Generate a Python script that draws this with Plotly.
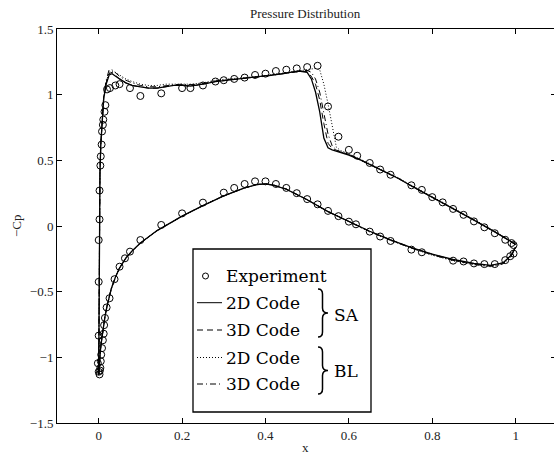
import plotly.graph_objects as go

# ---------------- experiment (-Cp along chord) ----------------
exp_up_x = [0.0, -0.002, 0.0, 0.0, 0.0, 0.002, 0.002, 0.004, 0.005, 0.007, 0.008, 0.010,
            0.011, 0.014, 0.016, 0.020, 0.027, 0.040, 0.050, 0.075, 0.100, 0.150, 0.200,
            0.220, 0.250, 0.280, 0.300, 0.325, 0.350, 0.375, 0.400, 0.425, 0.450, 0.475,
            0.500, 0.525, 0.550, 0.575, 0.600, 0.620, 0.650, 0.675, 0.700, 0.750, 0.775,
            0.800, 0.825, 0.850, 0.875, 0.900, 0.925, 0.950, 0.975, 0.990, 0.995]
exp_up_cp = [-1.11, -1.045, -0.835, -0.425, -0.107, 0.05, 0.27, 0.46, 0.53, 0.62, 0.72, 0.77,
             0.81, 0.87, 0.92, 1.04, 1.05, 1.07, 1.08, 1.05, 0.99, 1.01, 1.05,
             1.05, 1.07, 1.10, 1.11, 1.12, 1.13, 1.15, 1.16, 1.18, 1.19, 1.20,
             1.21, 1.22, 0.91, 0.68, 0.58, 0.535, 0.48, 0.43, 0.39, 0.31, 0.275,
             0.22, 0.18, 0.13, 0.085, 0.035, -0.01, -0.055, -0.105, -0.13, -0.145]

exp_lo_x = [0.002, 0.003, 0.004, 0.005, 0.006, 0.008, 0.010, 0.012, 0.013, 0.015, 0.019,
            0.026, 0.038, 0.050, 0.063, 0.075, 0.100, 0.150, 0.200, 0.250, 0.300, 0.325,
            0.350, 0.375, 0.400, 0.425, 0.450, 0.475, 0.500, 0.525, 0.550, 0.575, 0.600,
            0.617, 0.650, 0.675, 0.700, 0.750, 0.775, 0.850, 0.875, 0.900, 0.925, 0.950,
            0.975, 0.987, 0.995]
exp_lo_cp = [-1.13, -1.10, -1.08, -1.03, -0.98, -0.93, -0.87, -0.82, -0.755, -0.70, -0.62,
             -0.55, -0.405, -0.31, -0.246, -0.195, -0.107, 0.008, 0.096, 0.178, 0.254, 0.29,
             0.32, 0.34, 0.34, 0.32, 0.29, 0.25, 0.205, 0.165, 0.115, 0.075, 0.033,
             0.013, -0.043, -0.08, -0.114, -0.18, -0.20, -0.264, -0.27, -0.285, -0.29, -0.29,
             -0.26, -0.23, -0.21]

# ---------------- computed solutions, upper surface ----------------
cfd_up_x = [0.0, 0.0005, 0.001, 0.002, 0.003, 0.005, 0.008, 0.012, 0.018, 0.025, 0.032,
            0.04, 0.05, 0.065, 0.08, 0.10, 0.12, 0.14, 0.16, 0.18, 0.20, 0.22, 0.25, 0.28,
            0.31, 0.34, 0.37, 0.40, 0.43, 0.46, 0.48, 0.50, 0.51, 0.52, 0.53, 0.54, 0.55,
            0.56, 0.57, 0.58, 0.60, 0.63, 0.66, 0.69, 0.72, 0.75, 0.80, 0.85, 0.90, 0.95,
            0.98, 1.0]
sa2d_up = [-1.13, -0.60, -0.20, 0.15, 0.40, 0.62, 0.82, 0.97, 1.08, 1.15, 1.16,
           1.14, 1.12, 1.09, 1.07, 1.06, 1.05, 1.05, 1.06, 1.07, 1.07, 1.065, 1.08, 1.10,
           1.11, 1.12, 1.13, 1.14, 1.155, 1.17, 1.18, 1.17, 1.12, 1.02, 0.87, 0.67, 0.595,
           0.58, 0.57, 0.56, 0.54, 0.50, 0.455, 0.41, 0.36, 0.305, 0.22, 0.135, 0.045, -0.045,
           -0.10, -0.14]
sa3d_up = [-1.13, -0.60, -0.20, 0.15, 0.40, 0.62, 0.82, 0.97, 1.09, 1.16, 1.17,
           1.15, 1.12, 1.09, 1.07, 1.06, 1.05, 1.05, 1.06, 1.07, 1.07, 1.065, 1.08, 1.10,
           1.11, 1.12, 1.13, 1.14, 1.155, 1.17, 1.18, 1.175, 1.14, 1.08, 0.96, 0.78, 0.63,
           0.59, 0.575, 0.565, 0.545, 0.50, 0.455, 0.41, 0.36, 0.305, 0.22, 0.135, 0.045, -0.045,
           -0.10, -0.14]
bl2d_up = [-1.13, -0.60, -0.20, 0.15, 0.40, 0.62, 0.82, 0.98, 1.10, 1.17, 1.18,
           1.17, 1.15, 1.12, 1.10, 1.08, 1.07, 1.07, 1.08, 1.08, 1.085, 1.08, 1.09, 1.11,
           1.12, 1.125, 1.135, 1.145, 1.16, 1.175, 1.185, 1.19, 1.195, 1.20, 1.19, 1.08, 0.93,
           0.75, 0.60, 0.575, 0.55, 0.505, 0.46, 0.415, 0.365, 0.31, 0.225, 0.14, 0.05, -0.04,
           -0.10, -0.14]
bl3d_up = [-1.13, -0.60, -0.20, 0.15, 0.40, 0.62, 0.83, 0.99, 1.11, 1.19, 1.19,
           1.17, 1.14, 1.11, 1.09, 1.07, 1.06, 1.06, 1.07, 1.075, 1.08, 1.075, 1.085, 1.105,
           1.115, 1.12, 1.13, 1.14, 1.155, 1.17, 1.18, 1.185, 1.17, 1.12, 1.02, 0.86, 0.70,
           0.61, 0.58, 0.565, 0.545, 0.50, 0.455, 0.41, 0.36, 0.305, 0.22, 0.135, 0.045, -0.045,
           -0.10, -0.145]

# ---------------- computed solutions, lower surface ----------------
cfd_lo_x = [0.0, 0.001, 0.002, 0.004, 0.007, 0.01, 0.015, 0.02, 0.03, 0.04, 0.05, 0.065,
            0.08, 0.10, 0.12, 0.14, 0.17, 0.20, 0.25, 0.30, 0.35, 0.38, 0.40, 0.42, 0.45,
            0.50, 0.55, 0.60, 0.65, 0.70, 0.75, 0.80, 0.85, 0.90, 0.94, 0.97, 0.99, 1.0]
sa2d_lo = [-1.13, -1.07, -1.02, -0.95, -0.87, -0.79, -0.69, -0.61, -0.48, -0.39, -0.32, -0.245,
           -0.19, -0.13, -0.08, -0.035, 0.02, 0.075, 0.155, 0.23, 0.29, 0.315, 0.32, 0.31, 0.28,
           0.20, 0.11, 0.035, -0.04, -0.105, -0.165, -0.215, -0.255, -0.285, -0.30, -0.28, -0.22,
           -0.16]
sa3d_lo = [-1.13, -1.07, -1.02, -0.95, -0.87, -0.79, -0.69, -0.61, -0.48, -0.39, -0.32, -0.245,
           -0.19, -0.13, -0.08, -0.035, 0.02, 0.075, 0.155, 0.23, 0.29, 0.317, 0.322, 0.312, 0.282,
           0.20, 0.11, 0.035, -0.04, -0.105, -0.165, -0.215, -0.257, -0.288, -0.302, -0.28, -0.22,
           -0.16]
bl2d_lo = [-1.13, -1.07, -1.02, -0.95, -0.87, -0.79, -0.69, -0.61, -0.48, -0.39, -0.32, -0.245,
           -0.19, -0.13, -0.08, -0.035, 0.02, 0.075, 0.155, 0.23, 0.29, 0.315, 0.32, 0.31, 0.28,
           0.20, 0.11, 0.03, -0.045, -0.11, -0.17, -0.222, -0.265, -0.295, -0.31, -0.29, -0.23,
           -0.16]
bl3d_lo = [-1.13, -1.07, -1.02, -0.95, -0.87, -0.79, -0.69, -0.61, -0.48, -0.39, -0.32, -0.245,
           -0.19, -0.13, -0.08, -0.035, 0.02, 0.075, 0.155, 0.23, 0.29, 0.316, 0.321, 0.311, 0.281,
           0.20, 0.11, 0.032, -0.043, -0.108, -0.168, -0.22, -0.262, -0.292, -0.307, -0.287, -0.227,
           -0.16]

x_ticks = [0, 0.2, 0.4, 0.6, 0.8, 1]
y_ticks = [-1.5, -1, -0.5, 0, 0.5, 1, 1.5]

W, H = 554, 456
ML, MR, MT, MB = 57, 0, 29, 33
PW, PH = W - ML - MR, H - MT - MB
SERIF = "Liberation Serif"
CM = "DejaVu Serif"


def px(xp):
    return (xp - ML) / PW


def py(yp):
    return (H - MB - yp) / PH


fig = go.Figure()

curve_styles = [
    (sa2d_up, sa2d_lo, "solid", 1.3),
    (sa3d_up, sa3d_lo, "6px,4px", 1.0),
    (bl2d_up, bl2d_lo, "1px,2px", 1.0),
    (bl3d_up, bl3d_lo, "6px,3px,1px,3px", 1.0),
]
for up, lo, dash, lw in curve_styles:
    for xs, ys in ((cfd_up_x, up), (cfd_lo_x, lo)):
        fig.add_trace(go.Scatter(x=xs, y=ys, mode="lines", showlegend=False,
                                 line=dict(color="black", width=lw, dash=dash)))

for xs, ys in ((exp_up_x, exp_up_cp), (exp_lo_x, exp_lo_cp)):
    fig.add_trace(go.Scatter(x=xs, y=ys, mode="markers", showlegend=False,
                             marker=dict(symbol="circle-open", size=7, color="black",
                                         line=dict(width=1, color="black"))))

# carrier trace for the right-hand tick axis
fig.add_trace(go.Scatter(x=[None], y=[None], yaxis="y2", showlegend=False, hoverinfo="skip"))

axis_common = dict(showgrid=False, zeroline=False, ticks="inside", ticklen=5,
                   tickcolor="black", tickwidth=1, linecolor="black", linewidth=1,
                   showline=True, tickfont=dict(family=SERIF, size=13, color="#222"))

fig.update_layout(
    width=W, height=H,
    margin=dict(l=ML, r=MR, t=MT, b=MB),
    paper_bgcolor="white", plot_bgcolor="white",
    xaxis=dict(range=[-0.1, 1.092], tickvals=x_ticks, mirror="ticks", **axis_common),
    yaxis=dict(range=[-1.5, 1.5], tickvals=y_ticks, **axis_common),
    yaxis2=dict(range=[-1.5, 1.5], tickvals=y_ticks, overlaying="y", side="right",
                showgrid=False, zeroline=False, showline=False, showticklabels=False,
                ticks="inside", ticklen=3, tickcolor="black"),
)

annotations = [
    dict(x=px(305), y=py(14), text="Pressure Distribution",
         font=dict(family=SERIF, size=13, color="#222")),
    dict(x=px(305), y=py(447), text="x", font=dict(family=SERIF, size=13, color="#222")),
    dict(x=px(16), y=py(226), text="\u2212Cp", textangle=-90,
         font=dict(family=SERIF, size=13, color="#222")),
]

# legend box content
legend_rows = [(276, "Experiment"), (302.7, "2D Code"), (330, "3D Code"),
               (357.5, "2D Code"), (384, "3D Code")]
for yp, txt in legend_rows:
    annotations.append(dict(x=px(224), y=py(yp), text=txt, xanchor="left",
                            font=dict(family=CM, size=17, color="black")))
annotations.append(dict(x=px(332), y=py(315), text="SA", xanchor="left",
                        font=dict(family=CM, size=17, color="black")))
annotations.append(dict(x=px(332), y=py(371), text="BL", xanchor="left",
                        font=dict(family=CM, size=17, color="black")))
for a in annotations:
    a.update(xref="paper", yref="paper", showarrow=False)
    a.setdefault("xanchor", "center")
    a.setdefault("yanchor", "middle")

shapes = [
    dict(type="rect", x0=px(193), x1=px(371), y0=py(412), y1=py(249),
         line=dict(color="black", width=1.3), fillcolor="white", layer="above"),
    dict(type="circle", x0=px(202.5), x1=px(208.5), y0=py(279), y1=py(273),
         line=dict(color="black", width=1)),
]
for (yp, _), dash in zip(legend_rows[1:], ["solid", "6px,4px", "1px,2px", "6px,3px,1px,3px"]):
    shapes.append(dict(type="line", x0=px(197), x1=px(222), y0=py(yp), y1=py(yp),
                       line=dict(color="black", width=1, dash=dash)))


def brace(xl, xt, yt, yb):
    ym = (yt + yb) / 2
    xa = xl + (xt - xl) * 0.45
    r = 5
    pts = [
        f"M {px(xl)},{py(yt)}",
        f"Q {px(xa)},{py(yt)} {px(xa)},{py(yt + r)}",
        f"L {px(xa)},{py(ym - r)}",
        f"Q {px(xa)},{py(ym)} {px(xt)},{py(ym)}",
        f"Q {px(xa)},{py(ym)} {px(xa)},{py(ym + r)}",
        f"L {px(xa)},{py(yb - r)}",
        f"Q {px(xa)},{py(yb)} {px(xl)},{py(yb)}",
    ]
    return dict(type="path", path=" ".join(pts), line=dict(color="black", width=1.5))


shapes.append(brace(318, 328, 289, 337))
shapes.append(brace(318, 328, 347, 394))
for s in shapes:
    s.update(xref="paper", yref="paper")

fig.update_layout(annotations=annotations, shapes=shapes)
fig.write_html("out.html")
